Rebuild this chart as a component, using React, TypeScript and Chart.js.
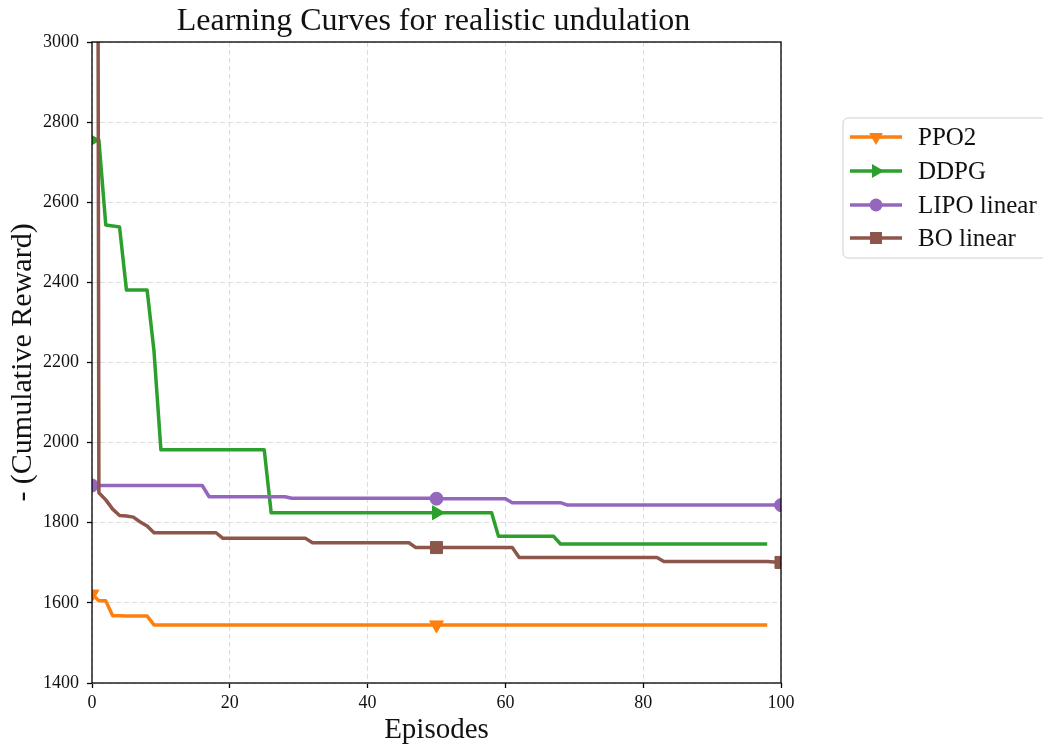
import { useEffect, useRef } from 'react';
import { Chart, registerables } from 'chart.js';

Chart.register(...registerables);

const chartTitle = 'Learning Curves for realistic undulation';
const xAxisLabel = 'Episodes';
const yAxisLabel = '- (Cumulative Reward)';
const seriesNames = ['PPO2', 'DDPG', 'LIPO linear', 'BO linear'];
const seriesColors = ['#ff7f0e', '#2ca02c', '#9467bd', '#8c564b'];
const markerEpisodes = [0, 50, 100];
const xTickValues = [0, 20, 40, 60, 80, 100];
const yTickValues = [1400, 1600, 1800, 2000, 2200, 2400, 2600, 2800, 3000];

// Best -(cumulative reward) so far, one value per episode (0..98)
const ppo2 = [
  1622, 1605, 1605, 1568, 1568, 1567, 1567, 1567, 1567, 1545,
  1545, 1545, 1545, 1545, 1545, 1545, 1545, 1545, 1545, 1545,
  1545, 1545, 1545, 1545, 1545, 1545, 1545, 1545, 1545, 1545,
  1545, 1545, 1545, 1545, 1545, 1545, 1545, 1545, 1545, 1545,
  1545, 1545, 1545, 1545, 1545, 1545, 1545, 1545, 1545, 1545,
  1545, 1545, 1545, 1545, 1545, 1545, 1545, 1545, 1545, 1545,
  1545, 1545, 1545, 1545, 1545, 1545, 1545, 1545, 1545, 1545,
  1545, 1545, 1545, 1545, 1545, 1545, 1545, 1545, 1545, 1545,
  1545, 1545, 1545, 1545, 1545, 1545, 1545, 1545, 1545, 1545,
  1545, 1545, 1545, 1545, 1545, 1545, 1545, 1545, 1545,
];

// Episodes 0..98
const ddpg = [
  2755, 2755, 2543, 2541, 2538, 2381, 2381, 2381, 2381, 2228,
  1982, 1982, 1982, 1982, 1982, 1982, 1982, 1982, 1982, 1982,
  1982, 1982, 1982, 1982, 1982, 1982, 1825, 1825, 1825, 1825,
  1825, 1825, 1825, 1825, 1825, 1825, 1825, 1825, 1825, 1825,
  1825, 1825, 1825, 1825, 1825, 1825, 1825, 1825, 1825, 1825,
  1825, 1825, 1825, 1825, 1825, 1825, 1825, 1825, 1825, 1766,
  1766, 1766, 1766, 1766, 1766, 1766, 1766, 1766, 1747, 1747,
  1747, 1747, 1747, 1747, 1747, 1747, 1747, 1747, 1747, 1747,
  1747, 1747, 1747, 1747, 1747, 1747, 1747, 1747, 1747, 1747,
  1747, 1747, 1747, 1747, 1747, 1747, 1747, 1747, 1747,
];

// Episodes 0..100
const lipoLinear = [
  1893, 1893, 1893, 1893, 1893, 1893, 1893, 1893, 1893, 1893,
  1893, 1893, 1893, 1893, 1893, 1893, 1893, 1865, 1865, 1865,
  1865, 1865, 1865, 1865, 1865, 1865, 1865, 1865, 1865, 1861,
  1861, 1861, 1861, 1861, 1861, 1861, 1861, 1861, 1861, 1861,
  1861, 1861, 1861, 1861, 1861, 1861, 1861, 1861, 1861, 1861,
  1860, 1860, 1860, 1860, 1860, 1860, 1860, 1860, 1860, 1860,
  1860, 1850, 1850, 1850, 1850, 1850, 1850, 1850, 1850, 1844,
  1844, 1844, 1844, 1844, 1844, 1844, 1844, 1844, 1844, 1844,
  1844, 1844, 1844, 1844, 1844, 1844, 1844, 1844, 1844, 1844,
  1844, 1844, 1844, 1844, 1844, 1844, 1844, 1844, 1844, 1844,
  1844,
];

// Episodes 0..100 (the first evaluation lies far above the axis range)
const boLinear = [
  12000, 1875, 1857, 1834, 1818, 1817, 1814, 1802, 1792, 1775,
  1775, 1775, 1775, 1775, 1775, 1775, 1775, 1775, 1775, 1761,
  1761, 1761, 1761, 1761, 1761, 1761, 1761, 1761, 1761, 1761,
  1761, 1761, 1750, 1750, 1750, 1750, 1750, 1750, 1750, 1750,
  1750, 1750, 1750, 1750, 1750, 1750, 1750, 1738, 1738, 1738,
  1738, 1738, 1738, 1738, 1738, 1738, 1738, 1738, 1738, 1738,
  1738, 1738, 1713, 1713, 1713, 1713, 1713, 1713, 1713, 1713,
  1713, 1713, 1713, 1713, 1713, 1713, 1713, 1713, 1713, 1713,
  1713, 1713, 1713, 1703, 1703, 1703, 1703, 1703, 1703, 1703,
  1703, 1703, 1703, 1703, 1703, 1703, 1703, 1703, 1703, 1702,
  1701,
];

const seriesValues = [ppo2, ddpg, lipoLinear, boLinear];

type MarkerKind = 'down' | 'right' | 'circle' | 'square';
const markerKinds: MarkerKind[] = ['down', 'right', 'circle', 'square'];

const SERIF = '"Liberation Serif", "Times New Roman", serif';

const pointStyleFor = (k: MarkerKind) =>
  k === 'circle' ? 'circle' : k === 'square' ? 'rect' : 'triangle';
const rotationFor = (k: MarkerKind) => (k === 'down' ? 180 : k === 'right' ? 90 : 0);
const radiusFor = (k: MarkerKind) =>
  k === 'circle' ? 6.5 : k === 'square' ? 8.5 : 8;

function drawMarker(ctx: CanvasRenderingContext2D, kind: MarkerKind, x: number, y: number, color: string) {
  ctx.save();
  ctx.fillStyle = color;
  ctx.beginPath();
  if (kind === 'circle') {
    ctx.arc(x, y, 6.5, 0, Math.PI * 2);
  } else if (kind === 'square') {
    ctx.rect(x - 6, y - 6, 12, 12);
  } else if (kind === 'down') {
    ctx.moveTo(x - 6.9, y - 4);
    ctx.lineTo(x + 6.9, y - 4);
    ctx.lineTo(x, y + 8);
    ctx.closePath();
  } else {
    ctx.moveTo(x - 4, y - 6.9);
    ctx.lineTo(x - 4, y + 6.9);
    ctx.lineTo(x + 8, y);
    ctx.closePath();
  }
  ctx.fill();
  ctx.restore();
}

// Title, plot frame and the legend box to the right of the plot
const decorations = {
  id: 'decorations',
  afterDraw(chart: any) {
    const { ctx, chartArea } = chart;
    const { left, right, top, bottom } = chartArea;

    ctx.save();
    ctx.strokeStyle = '#000';
    ctx.lineWidth = 1.3;
    ctx.strokeRect(left, top, right - left, bottom - top);

    ctx.fillStyle = '#111';
    ctx.font = `32px ${SERIF}`;
    ctx.textAlign = 'center';
    ctx.textBaseline = 'alphabetic';
    ctx.fillText(chartTitle, (left + right) / 2 - 3, 30);

    // legend
    const bx = 843, by = 118, bw = 215, bh = 140, r = 5;
    ctx.beginPath();
    ctx.moveTo(bx + r, by);
    ctx.lineTo(bx + bw - r, by);
    ctx.arcTo(bx + bw, by, bx + bw, by + r, r);
    ctx.lineTo(bx + bw, by + bh - r);
    ctx.arcTo(bx + bw, by + bh, bx + bw - r, by + bh, r);
    ctx.lineTo(bx + r, by + bh);
    ctx.arcTo(bx, by + bh, bx, by + bh - r, r);
    ctx.lineTo(bx, by + r);
    ctx.arcTo(bx, by, bx + r, by, r);
    ctx.closePath();
    ctx.fillStyle = 'rgba(255,255,255,0.8)';
    ctx.fill();
    ctx.strokeStyle = '#d0d0d0';
    ctx.lineWidth = 1;
    ctx.stroke();

    const rowY = [137, 171, 205, 238];
    seriesNames.forEach((name, i) => {
      const y = rowY[i];
      ctx.strokeStyle = seriesColors[i];
      ctx.lineWidth = 3.5;
      ctx.lineCap = 'butt';
      ctx.beginPath();
      ctx.moveTo(850, y);
      ctx.lineTo(902, y);
      ctx.stroke();
      drawMarker(ctx, markerKinds[i], 876, y, seriesColors[i]);
      ctx.fillStyle = '#111';
      ctx.font = `25px ${SERIF}`;
      ctx.textAlign = 'left';
      ctx.textBaseline = 'middle';
      ctx.fillText(name, 918, y + 1);
    });
    ctx.restore();
  },
};

export default function App() {
  const canvasRef = useRef<HTMLCanvasElement | null>(null);

  useEffect(() => {
    document.body.style.margin = '0';
    const canvas = canvasRef.current;
    if (!canvas) return;

    const datasets = seriesValues.map((values, i) => {
      const kind = markerKinds[i];
      return {
        label: seriesNames[i],
        data: values.map((v, ep) => ({ x: ep, y: v })),
        borderColor: seriesColors[i],
        backgroundColor: seriesColors[i],
        borderWidth: 3.5,
        borderJoinStyle: 'round' as const,
        borderCapStyle: 'butt' as const,
        pointStyle: pointStyleFor(kind),
        pointRotation: rotationFor(kind),
        pointBackgroundColor: seriesColors[i],
        pointBorderColor: seriesColors[i],
        pointBorderWidth: 1,
        pointRadius: (c: any) => (markerEpisodes.includes(c.dataIndex) ? radiusFor(kind) : 0),
        pointHoverRadius: 0,
        tension: 0,
        fill: false,
        order: 3 - i,
      };
    });

    const tickFont = { family: SERIF, size: 18 };
    const gridOpts = {
      color: '#dddddd',
      lineWidth: 1,
      drawTicks: true,
      tickLength: 5,
      tickColor: '#000',
      tickWidth: 1.3,
    };

    const chart = new Chart(canvas, {
      type: 'line',
      data: { datasets },
      options: {
        responsive: false,
        animation: false,
        events: [],
        layout: { padding: { top: 42, right: 262, bottom: 0, left: 0 } },
        plugins: {
          legend: { display: false },
          tooltip: { enabled: false },
          title: { display: false },
        },
        scales: {
          x: {
            type: 'linear',
            min: 0,
            max: 100,
            afterBuildTicks: (scale: any) => {
              scale.ticks = xTickValues.map((v) => ({ value: v }));
            },
            afterFit: (scale: any) => {
              scale.height = 64;
            },
            ticks: {
              color: '#111',
              font: tickFont,
              padding: 4,
              maxRotation: 0,
              callback: (v: any) => String(v),
            },
            grid: gridOpts,
            border: { display: false, dash: [5, 3] },
            title: {
              display: true,
              text: xAxisLabel,
              color: '#111',
              font: { family: SERIF, size: 29, lineHeight: 1 },
              padding: { top: 0, bottom: 2 },
            },
          },
          y: {
            type: 'linear',
            min: 1400,
            max: 3000,
            afterBuildTicks: (scale: any) => {
              scale.ticks = yTickValues.map((v) => ({ value: v }));
            },
            afterFit: (scale: any) => {
              scale.width = 92;
            },
            ticks: {
              color: '#111',
              font: tickFont,
              padding: 8,
              callback: (v: any) => String(v),
            },
            grid: gridOpts,
            border: { display: false, dash: [5, 3] },
            title: {
              display: true,
              text: yAxisLabel,
              color: '#111',
              font: { family: SERIF, size: 30, lineHeight: 1 },
              padding: { top: 8, bottom: 0 },
            },
          },
        },
      } as any,
      plugins: [decorations],
    });

    return () => chart.destroy();
  }, []);

  return (
    <div style={{ width: 1043, height: 747, background: '#fff' }}>
      <canvas ref={canvasRef} width={1043} height={747} style={{ display: 'block' }} />
    </div>
  );
}
